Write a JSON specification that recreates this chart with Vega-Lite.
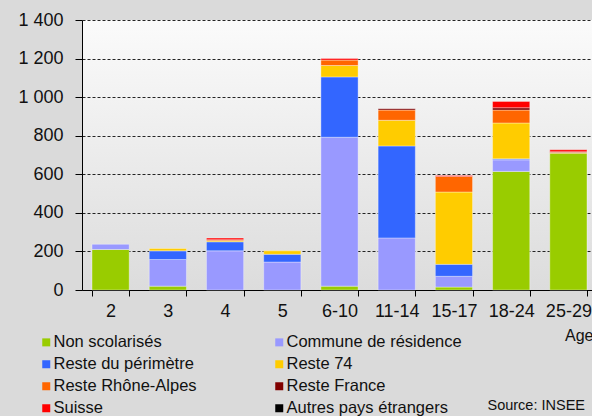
{
  "$schema": "https://vega.github.io/schema/vega-lite/v6.json",
  "width": 515,
  "height": 270,
  "autosize": {"type": "none"},
  "padding": {"left": 82, "top": 20, "right": 0, "bottom": 126},
  "background": "#dadada",
  "title": {
    "text": "Source: INSEE",
    "orient": "bottom",
    "anchor": "end",
    "frame": "group",
    "offset": -18,
    "dx": -12,
    "font": "Liberation Sans",
    "fontSize": 14.5,
    "fontWeight": "normal",
    "color": "#111111"
  },
  "config": {
    "font": "Liberation Sans",
    "view": {
      "stroke": null,
      "fill": {
        "gradient": "linear",
        "x1": 0, "y1": 0, "x2": 0, "y2": 1,
        "stops": [
          {"offset": 0, "color": "#fbfbfb"},
          {"offset": 1, "color": "#dcdcdc"}
        ]
      }
    }
  },
  "datasets": {
    "cats": [
      {"cat": "Non scolarisés", "rank": 1},
      {"cat": "Commune de résidence", "rank": 2},
      {"cat": "Reste du périmètre", "rank": 3},
      {"cat": "Reste 74", "rank": 4},
      {"cat": "Reste Rhône-Alpes", "rank": 5},
      {"cat": "Reste France", "rank": 6},
      {"cat": "Suisse", "rank": 7},
      {"cat": "Autres pays étrangers", "rank": 8}
    ],
    "pupils": [
      {"age": "2", "cat": "Non scolarisés", "value": 210},
      {"age": "2", "cat": "Commune de résidence", "value": 27},
      {"age": "3", "cat": "Non scolarisés", "value": 20},
      {"age": "3", "cat": "Commune de résidence", "value": 138},
      {"age": "3", "cat": "Reste du périmètre", "value": 45},
      {"age": "3", "cat": "Reste 74", "value": 12},
      {"age": "4", "cat": "Commune de résidence", "value": 203},
      {"age": "4", "cat": "Reste du périmètre", "value": 47},
      {"age": "4", "cat": "Reste 74", "value": 6},
      {"age": "4", "cat": "Reste Rhône-Alpes", "value": 5},
      {"age": "4", "cat": "Suisse", "value": 8},
      {"age": "5", "cat": "Commune de résidence", "value": 145},
      {"age": "5", "cat": "Reste du périmètre", "value": 40},
      {"age": "5", "cat": "Reste 74", "value": 18},
      {"age": "6-10", "cat": "Non scolarisés", "value": 20},
      {"age": "6-10", "cat": "Commune de résidence", "value": 772},
      {"age": "6-10", "cat": "Reste du périmètre", "value": 313},
      {"age": "6-10", "cat": "Reste 74", "value": 59},
      {"age": "6-10", "cat": "Reste Rhône-Alpes", "value": 28},
      {"age": "6-10", "cat": "Suisse", "value": 8},
      {"age": "11-14", "cat": "Commune de résidence", "value": 270},
      {"age": "11-14", "cat": "Reste du périmètre", "value": 477},
      {"age": "11-14", "cat": "Reste 74", "value": 133},
      {"age": "11-14", "cat": "Reste Rhône-Alpes", "value": 53},
      {"age": "11-14", "cat": "Reste France", "value": 7},
      {"age": "15-17", "cat": "Non scolarisés", "value": 15},
      {"age": "15-17", "cat": "Commune de résidence", "value": 56},
      {"age": "15-17", "cat": "Reste du périmètre", "value": 62},
      {"age": "15-17", "cat": "Reste 74", "value": 375},
      {"age": "15-17", "cat": "Reste Rhône-Alpes", "value": 81},
      {"age": "15-17", "cat": "Suisse", "value": 5},
      {"age": "18-24", "cat": "Non scolarisés", "value": 615},
      {"age": "18-24", "cat": "Commune de résidence", "value": 60},
      {"age": "18-24", "cat": "Reste du périmètre", "value": 5},
      {"age": "18-24", "cat": "Reste 74", "value": 186},
      {"age": "18-24", "cat": "Reste Rhône-Alpes", "value": 67},
      {"age": "18-24", "cat": "Reste France", "value": 12},
      {"age": "18-24", "cat": "Suisse", "value": 33},
      {"age": "25-29", "cat": "Non scolarisés", "value": 709},
      {"age": "25-29", "cat": "Reste Rhône-Alpes", "value": 5},
      {"age": "25-29", "cat": "Reste France", "value": 3},
      {"age": "25-29", "cat": "Suisse", "value": 10}
    ]
  },
  "data": {"name": "pupils"},
  "transform": [
    {"lookup": "cat", "from": {"data": {"name": "cats"}, "key": "cat", "fields": ["rank"]}}
  ],
  "mark": {"type": "bar", "stroke": "#ffffff", "strokeOpacity": 0.35, "strokeWidth": 1},
  "encoding": {
    "x": {
      "field": "age",
      "type": "nominal",
      "sort": ["2", "3", "4", "5", "6-10", "11-14", "15-17", "18-24", "25-29"],
      "scale": {"paddingInner": 0.35, "paddingOuter": 0.175},
      "axis": {
        "title": "Age",
        "titleFont": "Liberation Sans",
        "titleFontSize": 16,
        "titleFontWeight": "normal",
        "titleColor": "#111111",
        "titleAnchor": "end",
        "titleAlign": "right",
        "titleBaseline": "middle",
        "titleX": 511,
        "titleY": 45,
        "labelAngle": 0,
        "labelFontSize": 18,
        "labelColor": "#111111",
        "labelPadding": 6,
        "domainColor": "#000000",
        "tickColor": "#000000",
        "tickSize": 6,
        "tickBand": "extent"
      }
    },
    "y": {
      "aggregate": "sum",
      "field": "value",
      "type": "quantitative",
      "scale": {"domain": [0, 1400], "nice": false},
      "axis": {
        "title": null,
        "values": [0, 200, 400, 600, 800, 1000, 1200, 1400],
        "labelExpr": "replace(format(datum.value, ','), ',', ' ')",
        "labelFontSize": 18,
        "labelColor": "#111111",
        "labelPadding": 12,
        "domainColor": "#000000",
        "tickColor": "#000000",
        "tickSize": 7,
        "grid": true,
        "gridColor": "#000000",
        "gridDash": [3, 2],
        "gridOpacity": 0.85
      }
    },
    "color": {
      "field": "cat",
      "type": "nominal",
      "scale": {
        "domain": ["Non scolarisés", "Commune de résidence", "Reste du périmètre", "Reste 74", "Reste Rhône-Alpes", "Reste France", "Suisse", "Autres pays étrangers"],
        "range": ["#99cc00", "#9999ff", "#3366ff", "#ffcc00", "#ff6600", "#800000", "#ff0000", "#000000"]
      },
      "legend": {
        "title": null,
        "orient": "none",
        "legendX": -44,
        "legendY": 314,
        "columns": 2,
        "direction": "horizontal",
        "gridAlign": "all",
        "columnPadding": 42,
        "rowPadding": 5,
        "symbolType": "square",
        "symbolSize": 64,
        "symbolStrokeWidth": 0,
        "symbolOpacity": 1,
        "labelFontSize": 16.5,
        "labelColor": "#111111",
        "labelOffset": -1,
        "labelLimit": 300
      }
    },
    "order": {"field": "rank", "type": "quantitative", "sort": "ascending"}
  }
}
